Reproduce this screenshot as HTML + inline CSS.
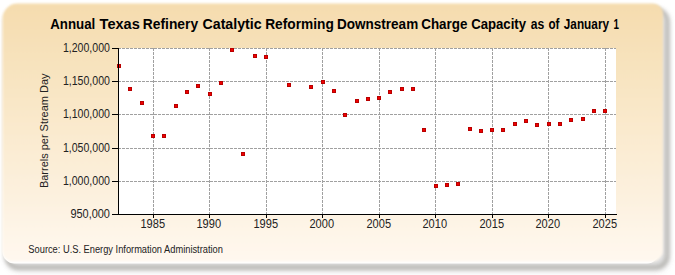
<!DOCTYPE html><html><head><meta charset="utf-8"><style>
html,body{margin:0;padding:0;background:#fff;width:675px;height:275px;overflow:hidden}
svg{display:block}
text{font-family:"Liberation Sans",sans-serif}
</style></head><body>
<svg width="675" height="275" viewBox="0 0 675 275">
<defs>
<linearGradient id="bg" x1="0" y1="0" x2="0" y2="1">
<stop offset="0" stop-color="#f5dcae"/>
<stop offset="1" stop-color="#fff8ef"/>
</linearGradient>
<filter id="sh" x="-10%" y="-10%" width="120%" height="130%"><feGaussianBlur stdDeviation="2.1"/></filter>
<filter id="tail" x="-10%" y="-10%" width="120%" height="130%"><feGaussianBlur stdDeviation="3"/></filter>
<filter id="mb" x="-5%" y="-5%" width="110%" height="110%"><feGaussianBlur stdDeviation="1.0"/></filter>
<filter id="wb" x="-10%" y="-10%" width="120%" height="130%"><feGaussianBlur stdDeviation="0.5"/></filter>
</defs>
<rect x="6.5" y="11" width="662" height="260" rx="12" ry="12" fill="#888" opacity="0.25" filter="url(#tail)"/>
<rect x="6.4" y="9.5" width="661" height="258" rx="12" ry="12" fill="none" stroke="#acaaa6" stroke-width="3.5" opacity="1" filter="url(#sh)"/>
<rect x="2.5" y="3.5" width="656.5" height="260" rx="12" ry="12" fill="#fff" filter="url(#wb)"/>
<path d="M17.5,3.5 H653.0 A10,10 0 0 1 663.0,13.5 V250.5 A11,11 0 0 1 652.0,261.5 H12.5 A10,10 0 0 1 2.5,251.5 V18.5 A15,15 0 0 1 17.5,3.5 Z" fill="url(#bg)" filter="url(#mb)"/>

<rect x="118" y="48" width="498" height="166" fill="#fff"/>
<g stroke="#a0a0a0" stroke-width="1" stroke-dasharray="3,1" shape-rendering="crispEdges">
<line x1="118" y1="48.5" x2="616" y2="48.5"/>
<line x1="118" y1="81.5" x2="616" y2="81.5"/>
<line x1="118" y1="114.5" x2="616" y2="114.5"/>
<line x1="118" y1="148.5" x2="616" y2="148.5"/>
<line x1="118" y1="181.5" x2="616" y2="181.5"/>
<line x1="153.5" y1="48" x2="153.5" y2="214"/>
<line x1="209.5" y1="48" x2="209.5" y2="214"/>
<line x1="266.5" y1="48" x2="266.5" y2="214"/>
<line x1="322.5" y1="48" x2="322.5" y2="214"/>
<line x1="379.5" y1="48" x2="379.5" y2="214"/>
<line x1="435.5" y1="48" x2="435.5" y2="214"/>
<line x1="492.5" y1="48" x2="492.5" y2="214"/>
<line x1="548.5" y1="48" x2="548.5" y2="214"/>
<line x1="605.5" y1="48" x2="605.5" y2="214"/>
</g>
<g shape-rendering="crispEdges">
<rect x="117" y="64" width="4" height="4" fill="#b80000"/><rect x="118" y="65" width="2" height="2" fill="#f00000"/>
<rect x="128" y="87" width="4" height="4" fill="#b80000"/><rect x="129" y="88" width="2" height="2" fill="#f00000"/>
<rect x="140" y="101" width="4" height="4" fill="#b80000"/><rect x="141" y="102" width="2" height="2" fill="#f00000"/>
<rect x="151" y="134" width="4" height="4" fill="#b80000"/><rect x="152" y="135" width="2" height="2" fill="#f00000"/>
<rect x="162" y="134" width="4" height="4" fill="#b80000"/><rect x="163" y="135" width="2" height="2" fill="#f00000"/>
<rect x="174" y="104" width="4" height="4" fill="#b80000"/><rect x="175" y="105" width="2" height="2" fill="#f00000"/>
<rect x="185" y="90" width="4" height="4" fill="#b80000"/><rect x="186" y="91" width="2" height="2" fill="#f00000"/>
<rect x="196" y="84" width="4" height="4" fill="#b80000"/><rect x="197" y="85" width="2" height="2" fill="#f00000"/>
<rect x="208" y="92" width="4" height="4" fill="#b80000"/><rect x="209" y="93" width="2" height="2" fill="#f00000"/>
<rect x="219" y="81" width="4" height="4" fill="#b80000"/><rect x="220" y="82" width="2" height="2" fill="#f00000"/>
<rect x="230" y="48" width="4" height="4" fill="#b80000"/><rect x="231" y="49" width="2" height="2" fill="#f00000"/>
<rect x="241" y="152" width="4" height="4" fill="#b80000"/><rect x="242" y="153" width="2" height="2" fill="#f00000"/>
<rect x="253" y="54" width="4" height="4" fill="#b80000"/><rect x="254" y="55" width="2" height="2" fill="#f00000"/>
<rect x="264" y="55" width="4" height="4" fill="#b80000"/><rect x="265" y="56" width="2" height="2" fill="#f00000"/>
<rect x="287" y="83" width="4" height="4" fill="#b80000"/><rect x="288" y="84" width="2" height="2" fill="#f00000"/>
<rect x="309" y="85" width="4" height="4" fill="#b80000"/><rect x="310" y="86" width="2" height="2" fill="#f00000"/>
<rect x="321" y="80" width="4" height="4" fill="#b80000"/><rect x="322" y="81" width="2" height="2" fill="#f00000"/>
<rect x="332" y="89" width="4" height="4" fill="#b80000"/><rect x="333" y="90" width="2" height="2" fill="#f00000"/>
<rect x="343" y="113" width="4" height="4" fill="#b80000"/><rect x="344" y="114" width="2" height="2" fill="#f00000"/>
<rect x="355" y="99" width="4" height="4" fill="#b80000"/><rect x="356" y="100" width="2" height="2" fill="#f00000"/>
<rect x="366" y="97" width="4" height="4" fill="#b80000"/><rect x="367" y="98" width="2" height="2" fill="#f00000"/>
<rect x="377" y="96" width="4" height="4" fill="#b80000"/><rect x="378" y="97" width="2" height="2" fill="#f00000"/>
<rect x="388" y="90" width="4" height="4" fill="#b80000"/><rect x="389" y="91" width="2" height="2" fill="#f00000"/>
<rect x="400" y="87" width="4" height="4" fill="#b80000"/><rect x="401" y="88" width="2" height="2" fill="#f00000"/>
<rect x="411" y="87" width="4" height="4" fill="#b80000"/><rect x="412" y="88" width="2" height="2" fill="#f00000"/>
<rect x="422" y="128" width="4" height="4" fill="#b80000"/><rect x="423" y="129" width="2" height="2" fill="#f00000"/>
<rect x="434" y="184" width="4" height="4" fill="#b80000"/><rect x="435" y="185" width="2" height="2" fill="#f00000"/>
<rect x="445" y="183" width="4" height="4" fill="#b80000"/><rect x="446" y="184" width="2" height="2" fill="#f00000"/>
<rect x="456" y="182" width="4" height="4" fill="#b80000"/><rect x="457" y="183" width="2" height="2" fill="#f00000"/>
<rect x="468" y="127" width="4" height="4" fill="#b80000"/><rect x="469" y="128" width="2" height="2" fill="#f00000"/>
<rect x="479" y="129" width="4" height="4" fill="#b80000"/><rect x="480" y="130" width="2" height="2" fill="#f00000"/>
<rect x="490" y="128" width="4" height="4" fill="#b80000"/><rect x="491" y="129" width="2" height="2" fill="#f00000"/>
<rect x="501" y="128" width="4" height="4" fill="#b80000"/><rect x="502" y="129" width="2" height="2" fill="#f00000"/>
<rect x="513" y="122" width="4" height="4" fill="#b80000"/><rect x="514" y="123" width="2" height="2" fill="#f00000"/>
<rect x="524" y="119" width="4" height="4" fill="#b80000"/><rect x="525" y="120" width="2" height="2" fill="#f00000"/>
<rect x="535" y="123" width="4" height="4" fill="#b80000"/><rect x="536" y="124" width="2" height="2" fill="#f00000"/>
<rect x="547" y="122" width="4" height="4" fill="#b80000"/><rect x="548" y="123" width="2" height="2" fill="#f00000"/>
<rect x="558" y="122" width="4" height="4" fill="#b80000"/><rect x="559" y="123" width="2" height="2" fill="#f00000"/>
<rect x="569" y="118" width="4" height="4" fill="#b80000"/><rect x="570" y="119" width="2" height="2" fill="#f00000"/>
<rect x="581" y="117" width="4" height="4" fill="#b80000"/><rect x="582" y="118" width="2" height="2" fill="#f00000"/>
<rect x="592" y="109" width="4" height="4" fill="#b80000"/><rect x="593" y="110" width="2" height="2" fill="#f00000"/>
<rect x="603" y="109" width="4" height="4" fill="#b80000"/><rect x="604" y="110" width="2" height="2" fill="#f00000"/>
</g>
<g stroke="#000" stroke-width="1" shape-rendering="crispEdges">
<line x1="118.5" y1="48" x2="118.5" y2="215"/>
<line x1="118" y1="214.5" x2="617" y2="214.5"/>
<line x1="112" y1="48.5" x2="118" y2="48.5"/>
<line x1="112" y1="81.5" x2="118" y2="81.5"/>
<line x1="112" y1="114.5" x2="118" y2="114.5"/>
<line x1="112" y1="148.5" x2="118" y2="148.5"/>
<line x1="112" y1="181.5" x2="118" y2="181.5"/>
<line x1="112" y1="214.5" x2="118" y2="214.5"/>
<line x1="153.5" y1="214" x2="153.5" y2="218"/>
<line x1="209.5" y1="214" x2="209.5" y2="218"/>
<line x1="266.5" y1="214" x2="266.5" y2="218"/>
<line x1="322.5" y1="214" x2="322.5" y2="218"/>
<line x1="379.5" y1="214" x2="379.5" y2="218"/>
<line x1="435.5" y1="214" x2="435.5" y2="218"/>
<line x1="492.5" y1="214" x2="492.5" y2="218"/>
<line x1="548.5" y1="214" x2="548.5" y2="218"/>
<line x1="605.5" y1="214" x2="605.5" y2="218"/>
</g>
<text x="50.20" y="29" font-size="14" fill="#000" textLength="45.03" lengthAdjust="spacingAndGlyphs" font-weight="bold">Annual</text>
<text x="99.60" y="29" font-size="14" fill="#000" textLength="40.20" lengthAdjust="spacingAndGlyphs" font-weight="bold">Texas</text>
<text x="142.81" y="29" font-size="14" fill="#000" textLength="55.32" lengthAdjust="spacingAndGlyphs" font-weight="bold">Refinery</text>
<text x="202.49" y="29" font-size="14" fill="#000" textLength="59.18" lengthAdjust="spacingAndGlyphs" font-weight="bold">Catalytic</text>
<text x="265.22" y="29" font-size="14" fill="#000" textLength="68.56" lengthAdjust="spacingAndGlyphs" font-weight="bold">Reforming</text>
<text x="337.03" y="29" font-size="14" fill="#000" textLength="81.16" lengthAdjust="spacingAndGlyphs" font-weight="bold">Downstream</text>
<text x="421.24" y="29" font-size="14" fill="#000" textLength="46.18" lengthAdjust="spacingAndGlyphs" font-weight="bold">Charge</text>
<text x="471.16" y="29" font-size="14" fill="#000" textLength="54.88" lengthAdjust="spacingAndGlyphs" font-weight="bold">Capacity</text>
<text x="530.70" y="29" font-size="14" fill="#000" textLength="13.50" lengthAdjust="spacingAndGlyphs" font-weight="bold">as</text>
<text x="548.50" y="29" font-size="14" fill="#000" textLength="10.98" lengthAdjust="spacingAndGlyphs" font-weight="bold">of</text>
<text x="563.80" y="29" font-size="14" fill="#000" textLength="45.25" lengthAdjust="spacingAndGlyphs" font-weight="bold">January</text>
<text x="613.60" y="29" font-size="14" fill="#000" textLength="5.46" lengthAdjust="spacingAndGlyphs" font-weight="bold">1</text>
<text x="62.92" y="52" font-size="12" fill="#222" textLength="47.02" lengthAdjust="spacingAndGlyphs">1,200,000</text>
<text x="62.92" y="85" font-size="12" fill="#222" textLength="47.02" lengthAdjust="spacingAndGlyphs">1,150,000</text>
<text x="62.92" y="118" font-size="12" fill="#222" textLength="47.02" lengthAdjust="spacingAndGlyphs">1,100,000</text>
<text x="62.92" y="152" font-size="12" fill="#222" textLength="47.02" lengthAdjust="spacingAndGlyphs">1,050,000</text>
<text x="62.92" y="185" font-size="12" fill="#222" textLength="47.02" lengthAdjust="spacingAndGlyphs">1,000,000</text>
<text x="70.39" y="218" font-size="12" fill="#222" textLength="39.57" lengthAdjust="spacingAndGlyphs">950,000</text>
<text x="140.48" y="228" font-size="12" fill="#222" textLength="24.57" lengthAdjust="spacingAndGlyphs">1985</text>
<text x="196.48" y="228" font-size="12" fill="#222" textLength="24.57" lengthAdjust="spacingAndGlyphs">1990</text>
<text x="253.48" y="228" font-size="12" fill="#222" textLength="24.57" lengthAdjust="spacingAndGlyphs">1995</text>
<text x="309.48" y="228" font-size="12" fill="#222" textLength="24.57" lengthAdjust="spacingAndGlyphs">2000</text>
<text x="366.48" y="228" font-size="12" fill="#222" textLength="24.57" lengthAdjust="spacingAndGlyphs">2005</text>
<text x="422.48" y="228" font-size="12" fill="#222" textLength="24.57" lengthAdjust="spacingAndGlyphs">2010</text>
<text x="479.48" y="228" font-size="12" fill="#222" textLength="24.57" lengthAdjust="spacingAndGlyphs">2015</text>
<text x="535.48" y="228" font-size="12" fill="#222" textLength="24.57" lengthAdjust="spacingAndGlyphs">2020</text>
<text x="592.48" y="228" font-size="12" fill="#222" textLength="24.57" lengthAdjust="spacingAndGlyphs">2025</text>
<text x="28.37" y="253" font-size="10" fill="#222" textLength="194.54" lengthAdjust="spacingAndGlyphs">Source: U.S. Energy Information Administration</text>
<text transform="translate(48,187.1) rotate(-90)" x="-0.95" y="0" font-size="11.5" fill="#222" textLength="114.50" lengthAdjust="spacingAndGlyphs">Barrels per Stream Day</text>
</svg></body></html>
